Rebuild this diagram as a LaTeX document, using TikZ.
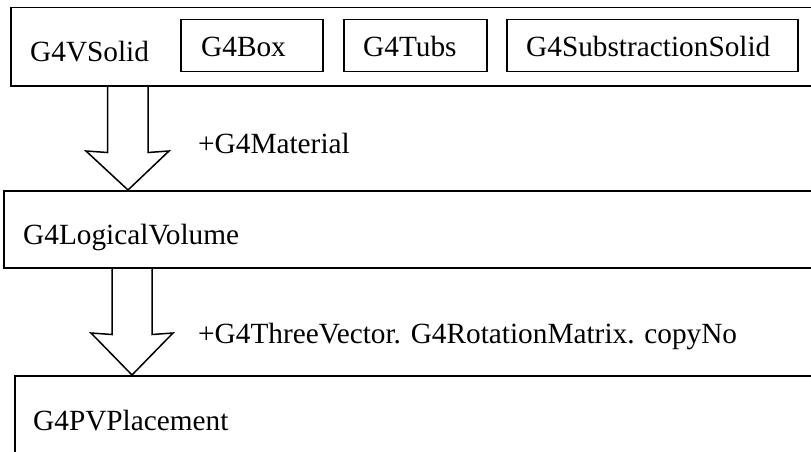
\documentclass[tikz,border=0pt]{standalone}
\usepackage{fontspec}
\setmainfont{Liberation Serif}
\usetikzlibrary{calc}
\tikzset{
  boxshape/.style={draw=black, line width=1.5pt, inner sep=0pt, anchor=north west},
  lbl/.style={inner sep=0pt, anchor=base west, font=\fontsize{29.3}{34}\selectfont},
  blockarrow/.style={draw=black, line width=1.5pt, line join=miter}
}
\begin{document}
\begin{tikzpicture}[x=1pt,y=-1pt]
\useasboundingbox (0,0) rectangle (811,452);
\clip (0,0) rectangle (811,452);
% boxes
\node[boxshape, minimum width=830pt, minimum height=78pt] (solid) at (10,7) {};
\node[boxshape, minimum width=142pt, minimum height=52pt] (gbox) at (180,19) {};
\node[boxshape, minimum width=143pt, minimum height=52pt] (gtubs) at (343,19) {};
\node[boxshape, minimum width=291pt, minimum height=52pt] (gsub) at (506,19) {};
\node[boxshape, minimum width=840pt, minimum height=77pt] (logical) at (3,190) {};
\node[boxshape, minimum width=840pt, minimum height=100pt] (placement) at (14,375) {};
% labels
\node[lbl] (tsolid) at (30,62) {G4VSolid};
\node[lbl] (tbox) at (201,57) {G4Box};
\node[lbl] (ttubs) at (363,57) {G4Tubs};
\node[lbl] (tsub) at (526,57) {G4SubstractionSolid};
\node[lbl] (tmat) at (198,153) {+G4Material};
\node[lbl] (tlog) at (23,244) {G4LogicalVolume};
\node[lbl] (tvec) at (198,343) {+G4ThreeVector. G4RotationMatrix. copyNo};
\node[lbl] (tpl) at (33,430) {G4PVPlacement};
% block arrow 1
\path (solid.south west) ++(118,0) coordinate (a1top);
\path (logical.north west) ++(125,0) coordinate (a1tip);
\draw[blockarrow] ($(a1top)+(-20.5,0)$) -- ($(a1top)+(-20.5,66)$) -- ($(a1tip)+(-42,-39)$) -- (a1tip) -- ($(a1tip)+(41,-39)$) -- ($(a1top)+(20,66)$) -- ($(a1top)+(20,0)$);
% block arrow 2
\path (logical.south west) ++(129,0) coordinate (a2top);
\path (placement.north west) ++(118,0) coordinate (a2tip);
\draw[blockarrow] ($(a2top)+(-20,0)$) -- ($(a2top)+(-20,66)$) -- ($(a2tip)+(-41,-42)$) -- (a2tip) -- ($(a2tip)+(41,-42)$) -- ($(a2top)+(20,66)$) -- ($(a2top)+(20,0)$);
\end{tikzpicture}
\end{document}
